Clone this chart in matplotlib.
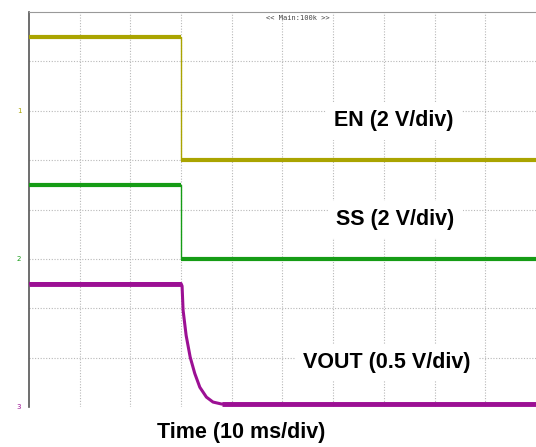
import matplotlib.pyplot as plt

# --------------------------------------
# DATA (divisions: x 0..10, y 0..8)
# --------------------------------------

en_t = [0, 3.0, 3.0, 10]
en_v = [7.5, 7.5, 5.0, 5.0]

ss_t = [0, 3.0, 3.0, 10]
ss_v = [4.5, 4.5, 3.0, 3.0]

vout_t = [0, 3.0, 3.02, 3.04, 3.1, 3.18, 3.27, 3.37, 3.5, 3.63, 3.8, 10]
vout_v = [2.5, 2.5, 2.45, 1.96, 1.45, 1.01, 0.68, 0.40, 0.2, 0.10, 0.06, 0.06]

labels = ["EN (2 V/div)", "SS (2 V/div)", "VOUT (0.5 V/div)"]
label_x = [7.2, 7.22, 7.06]
label_y = [5.8, 3.8, 0.9]
marker_y = [6.0, 3.0, 0.0]
marker_txt = ["1", "2", "3"]

colors = ["#aaa400", "#159c15", "#9c1094"]

# --------------------------------------
# FIGURE
# --------------------------------------

plt.rcParams["lines.solid_capstyle"] = "butt"

fig = plt.figure(figsize=(5.36, 4.47), dpi=100)
ax = fig.add_axes([0.054, 0.0895, 0.946, 0.8835])
ax.set_xlim(0, 10)
ax.set_ylim(0, 8)

# scope grid
for x in range(1, 10):
    ax.axvline(x, color="#b8b8b8", lw=0.8, ls=(0, (1, 1.5)), zorder=0)
for y in range(1, 8):
    ax.axhline(y, color="#b8b8b8", lw=0.8, ls=(0, (1, 1.5)), zorder=0)

ax.set_xticks([])
ax.set_yticks([])
ax.spines["top"].set_color("#999999")
ax.spines["left"].set_color("#555555")
ax.spines["left"].set_linewidth(1.2)
ax.spines["right"].set_visible(False)
ax.spines["bottom"].set_visible(False)

# traces: thin edges, thick flat levels
ax.plot(en_t, en_v, color=colors[0], lw=1.0, zorder=3)
ax.plot(en_t[:2], en_v[:2], color=colors[0], lw=3.0, zorder=3)
ax.plot(en_t[2:], en_v[2:], color=colors[0], lw=3.0, zorder=3)

ax.plot(ss_t, ss_v, color=colors[1], lw=1.0, zorder=3)
ax.plot(ss_t[:2], ss_v[:2], color=colors[1], lw=3.0, zorder=3)
ax.plot(ss_t[2:], ss_v[2:], color=colors[1], lw=3.0, zorder=3)

ax.plot(vout_t, vout_v, color=colors[2], lw=2.2, zorder=3, solid_joinstyle="round")
ax.plot(vout_t[:2], vout_v[:2], color=colors[2], lw=3.5, zorder=3)
ax.plot(vout_t[-2:], vout_v[-2:], color=colors[2], lw=3.5, zorder=3)

# channel labels
for txt, x, y in zip(labels, label_x, label_y):
    ax.text(x, y, txt, ha="center", va="center", fontsize=15.5, fontweight="bold",
            family="Liberation Sans",
            bbox=dict(facecolor="white", edgecolor="none", pad=6), zorder=4)

ax.text(5.3, 7.88, "<< Main:100k >>", ha="center", va="center", fontsize=5,
        family="DejaVu Sans Mono", color="#444444")

# ground markers on the left
for txt, y, c in zip(marker_txt, marker_y, colors):
    ax.text(-0.15, y, txt, ha="right", va="center", fontsize=5, color=c, clip_on=False)

fig.text(0.45, 0.033, "Time (10 ms/div)", ha="center", va="center", fontsize=15.5,
         fontweight="bold", family="Liberation Sans")

fig.savefig("out.png", dpi=100)
